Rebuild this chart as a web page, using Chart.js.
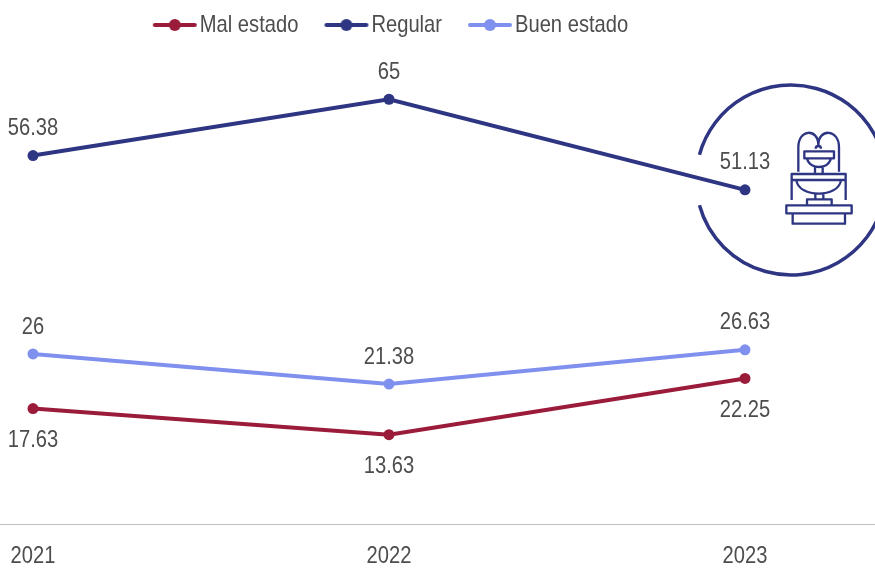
<!DOCTYPE html>
<html lang="es">
<head>
<meta charset="utf-8">
<title>Estado</title>
<style>
  html, body { margin: 0; padding: 0; background: #fff; }
  canvas { display: block; }
</style>
<script src="https://cdn.jsdelivr.net/npm/chart.js@4/dist/chart.umd.min.js"></script>
</head>
<body>
<canvas id="chart" width="875" height="568"></canvas>
<script>
const years = ['2021', '2022', '2023'];
const malEstado = [17.63, 13.63, 22.25];
const regular = [56.38, 65, 51.13];
const buenEstado = [26, 21.38, 26.63];

const RED = '#9b1c3a';
const NAVY = '#2e3582';
const LIGHT = '#8090ee';
const TEXT = '#4d4d4d';
const FONT = '"Liberation Sans", sans-serif';
const NARROW = 0.84;

// no narrow font installed, so squeeze all the text drawn on this canvas
const canvas = document.getElementById('chart');
const context = canvas.getContext('2d');
const fillText = context.fillText.bind(context);
const measureText = context.measureText.bind(context);
context.fillText = (text, x, y) => {
  context.save();
  context.translate(x, y);
  context.scale(NARROW, 1);
  fillText(text, 0, 0);
  context.restore();
};
context.measureText = (text) => {
  const m = measureText(text);
  return { width: m.width * NARROW, actualBoundingBoxAscent: m.actualBoundingBoxAscent };
};

// legend swatch: short line with a dot on it
const swatch = (color) => {
  const c = document.createElement('canvas');
  c.width = 46;
  c.height = 14;
  const g = c.getContext('2d');
  g.strokeStyle = color;
  g.lineWidth = 4;
  g.lineCap = 'round';
  g.beginPath();
  g.moveTo(3, 7);
  g.lineTo(43, 7);
  g.stroke();
  g.fillStyle = color;
  g.beginPath();
  g.arc(23, 7, 6, 0, Math.PI * 2);
  g.fill();
  return c;
};

const series = (label, data, color, labelSide) => ({
  label,
  data,
  labelSide,
  borderColor: color,
  backgroundColor: color,
  borderWidth: 4,
  pointRadius: 5.5,
  pointBorderWidth: 0,
  pointHoverRadius: 5.5,
  tension: 0,
  clip: false,
});

const pointLabels = {
  id: 'pointLabels',
  afterDatasetsDraw(chart) {
    const { ctx } = chart;
    ctx.save();
    ctx.font = `24px ${FONT}`;
    ctx.fillStyle = TEXT;
    ctx.textAlign = 'center';
    ctx.textBaseline = 'middle';
    chart.data.datasets.forEach((ds, i) => {
      chart.getDatasetMeta(i).data.forEach((pt, j) => {
        const dy = ds.labelSide === 'below' ? 32 : -27;
        ctx.fillText(String(ds.data[j]), pt.x, pt.y + dy);
      });
    });
    ctx.restore();
  },
};

const baseline = {
  id: 'baseline',
  // legend sits a bit right of the plot's centre
  afterLayout(chart) {
    chart.legend.left += 6;
    chart.legend.right += 6;
  },
  beforeDatasetsDraw(chart) {
    const { ctx, width } = chart;
    const y = Math.ceil(chart.scales.y.getPixelForValue(0)) + 0.5;
    ctx.save();
    ctx.strokeStyle = '#bfbfbf';
    ctx.lineWidth = 1;
    ctx.beginPath();
    ctx.moveTo(0, y);
    ctx.lineTo(width, y);
    ctx.stroke();
    ctx.restore();
  },
};

// circle with the fountain icon, decoration on the right
const fountain = {
  id: 'fountain',
  afterDatasetsDraw(chart) {
    const { ctx } = chart;
    ctx.save();
    ctx.strokeStyle = NAVY;
    ctx.lineWidth = 3.5;
    ctx.beginPath();
    ctx.arc(791, 180, 95, Math.PI + 0.27, Math.PI - 0.27);
    ctx.stroke();

    ctx.translate(680, 70);
    ctx.scale(1 / 3, 1 / 3);
    ctx.lineWidth = 7;
    ctx.lineJoin = 'round';
    ctx.beginPath();
    // arches
    ctx.moveTo(355, 305);
    ctx.lineTo(355, 232);
    ctx.bezierCurveTo(355, 175, 415, 175, 415, 225);
    ctx.bezierCurveTo(415, 175, 477, 175, 477, 232);
    ctx.lineTo(477, 305);
    // upper bowl
    ctx.rect(373, 244, 89, 21);
    ctx.moveTo(381, 265);
    ctx.bezierCurveTo(385, 285, 405, 291, 417, 291);
    ctx.bezierCurveTo(430, 291, 448, 285, 453, 265);
    ctx.moveTo(405, 291);
    ctx.lineTo(405, 312);
    ctx.moveTo(428, 291);
    ctx.lineTo(428, 312);
    // lower basin
    ctx.rect(335, 312, 162, 18);
    ctx.moveTo(349, 330);
    ctx.bezierCurveTo(352, 358, 385, 371, 416, 371);
    ctx.bezierCurveTo(447, 371, 480, 358, 483, 330);
    ctx.moveTo(335, 330);
    ctx.lineTo(335, 390);
    ctx.moveTo(497, 330);
    ctx.lineTo(497, 390);
    ctx.moveTo(406, 371);
    ctx.lineTo(406, 388);
    ctx.moveTo(430, 371);
    ctx.lineTo(430, 388);
    // base
    ctx.rect(381, 388, 74, 18);
    ctx.rect(319, 406, 196, 24);
    ctx.rect(338, 430, 157, 31);
    ctx.stroke();
    // finial
    ctx.beginPath();
    ctx.arc(415, 236, 8, Math.PI, 0);
    ctx.stroke();
    ctx.restore();
  },
};

new Chart(canvas, {
  type: 'line',
  plugins: [baseline, pointLabels, fountain],
  data: {
    labels: years,
    datasets: [
      series('Mal estado', malEstado, RED, 'below'),
      series('Regular', regular, NAVY, 'above'),
      series('Buen estado', buenEstado, LIGHT, 'above'),
    ],
  },
  options: {
    responsive: false,
    animation: false,
    layout: { padding: { left: 33, right: 130, bottom: -12.5, top: -22 } },
    plugins: {
      tooltip: { enabled: false },
      legend: {
        position: 'top',
        align: 'center',
        labels: {
          usePointStyle: true,
          pointStyleWidth: 26,
          padding: 35,
          color: TEXT,
          font: { family: FONT, size: 24 },
          generateLabels(chart) {
            return chart.data.datasets.map((ds, i) => ({
              text: ds.label,
              fontColor: TEXT,
              strokeStyle: ds.borderColor,
              fillStyle: ds.borderColor,
              lineWidth: 0,
              pointStyle: swatch(ds.borderColor),
              datasetIndex: i,
            }));
          },
        },
      },
    },
    scales: {
      y: { display: false, min: 0, max: 73 },
      x: {
        offset: false,
        grid: { display: false },
        border: { display: false },
        ticks: {
          color: TEXT,
          font: { family: FONT, size: 24 },
          maxRotation: 0,
          autoSkip: false,
          padding: 10,
        },
      },
    },
  },
});
</script>
</body>
</html>
